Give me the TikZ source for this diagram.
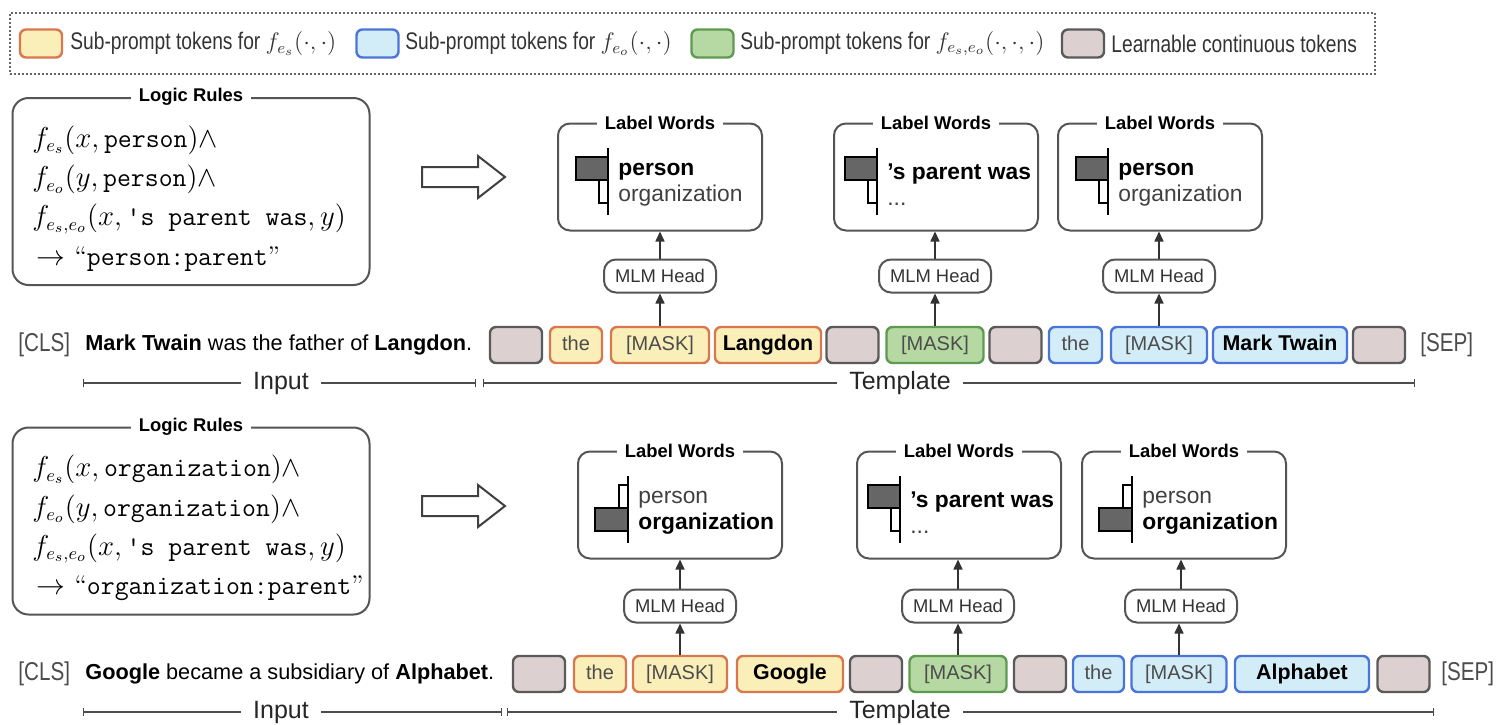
\documentclass[tikz,border=0pt]{standalone}
\usepackage{fontspec}
\setsansfont{Liberation Sans}
\newfontfamily\narrowsf[FakeStretch=0.8]{Liberation Sans}
\usetikzlibrary{arrows.meta}
\definecolor{subjfill}{HTML}{FAEFB8}
\definecolor{subjline}{HTML}{D9774E}
\definecolor{objfill}{HTML}{D3EDF8}
\definecolor{objline}{HTML}{4A74D8}
\definecolor{relfill}{HTML}{B6D9A3}
\definecolor{relline}{HTML}{5E9A4F}
\definecolor{learnfill}{HTML}{DDD0D1}
\definecolor{learnline}{HTML}{5A5A5A}
\definecolor{barfill}{HTML}{666666}
\definecolor{edge}{HTML}{555555}
\begin{document}
\begin{tikzpicture}[x=0.5pt,y=-0.5pt,
	tok/.style={draw, rounded corners=3pt, line width=1.2pt, minimum height=18pt, inner sep=0pt, text height=7.4pt, text depth=1.8pt, text=black!70, font=\sffamily\fontsize{10}{12}\selectfont},
	subj/.style={tok, draw=subjline, fill=subjfill},
	obj/.style={tok, draw=objline, fill=objfill},
	rel/.style={tok, draw=relline, fill=relfill},
	learn/.style={tok, draw=learnline, fill=learnfill, minimum width=26pt},
	ent/.style={text=black, font=\sffamily\bfseries\fontsize{10.7}{12}\selectfont},
	rulebox/.style={draw=edge, line width=1pt, rounded corners=8pt, minimum width=178.5pt, minimum height=93.5pt},
	labelbox/.style={draw=edge, line width=1pt, rounded corners=6pt, minimum width=102pt, minimum height=53.5pt},
	boxtitle/.style={fill=white, inner xsep=4pt, inner ysep=1pt, font=\sffamily\bfseries\fontsize{9.2}{10}\selectfont},
	lwtext/.style={anchor=west, align=left, inner sep=0pt, text=black!75, font=\sffamily\fontsize{11.4}{13}\selectfont},
	mlm/.style={draw=edge, line width=1pt, rounded corners=6pt, minimum width=56pt, minimum height=16.5pt, inner sep=0pt, text=black!80, font=\sffamily\fontsize{9.2}{10}\selectfont},
	flow/.style={line width=0.8pt, draw=black!80, -{Triangle[width=4.5pt,length=5pt]}},
	bar/.style={draw=black, line width=0.8pt},
	axis/.style={draw=black, line width=1.3pt},
	span/.style={line width=0.7pt, draw=black!70, {Bar[width=4pt]}-{Bar[width=4pt]}},
	spanlabel/.style={fill=white, inner xsep=6pt, inner ysep=1pt, text=black!85, font=\sffamily\fontsize{12.5}{14}\selectfont},
	fatarrow/.style={draw=black!75, line width=1pt, fill=white, line join=miter},
	ruletext/.style={anchor=west, align=left, inner sep=0pt, font=\rmfamily\fontsize{13.5}{19.6}\selectfont},
	sentence/.style={anchor=west, inner sep=0pt, font=\sffamily\fontsize{10.85}{12}\selectfont},
	special/.style={anchor=west, inner sep=0pt, text=black!70, font=\narrowsf\fontsize{12.9}{15}\selectfont},
	keytext/.style={anchor=west, inner sep=0pt, text=black!80, font=\narrowsf\fontsize{12}{13}\selectfont}]
	\useasboundingbox (0,0) rectangle (1506,724);

	% legend
	\node[draw=black!60, line width=0.8pt, dash pattern=on 0.8pt off 1.2pt, minimum width=682.5pt, minimum height=30.5pt] (legend) at (692.5,43.5) {};
	\foreach \st/\cx/\tx/\lab in {subj/41/70/{Sub-prompt tokens for $f_{e_s}(\cdot,\cdot)$},
		obj/377.5/405/{Sub-prompt tokens for $f_{e_o}(\cdot,\cdot)$},
		rel/712.5/740/{Sub-prompt tokens for $f_{e_s,e_o}(\cdot,\cdot,\cdot)$},
		learn/1083/1111/{Learnable continuous tokens}}
	{
		\node[\st, minimum width=21pt, minimum height=14pt] (key\st) at (\cx,43.5) {};
		\node[keytext] (keytext\st) at (\tx,43.5) {\lab};
	}

	% logic rules
	\node[rulebox] (rulesa) at (191,191.5) {};
	\node[boxtitle] (rulesatitle) at (rulesa.north) {Logic Rules};
	\node[ruletext] (rulesatext) at (32,198.5) {$f_{e_s}(x,\texttt{person})\wedge$\\
		$f_{e_o}(y,\texttt{person})\wedge$\\
		$f_{e_s,e_o}(x,\texttt{'s parent was},y)$\\
		\,$\rightarrow$ “\texttt{person:parent}”};
	\node[rulebox] (rulesb) at (191,521) {};
	\node[boxtitle] (rulesbtitle) at (rulesb.north) {Logic Rules};
	\node[ruletext] (rulesbtext) at (32,528) {$f_{e_s}(x,\texttt{organization})\wedge$\\
		$f_{e_o}(y,\texttt{organization})\wedge$\\
		$f_{e_s,e_o}(x,\texttt{'s parent was},y)$\\
		\,$\rightarrow$ “\texttt{organization:parent}”};

	% hollow arrows
	\draw[fatarrow] (422,167) -- (478,167) -- (478,156) -- (505,177) -- (478,198) -- (478,187) -- (422,187) -- cycle;
	\draw[fatarrow] (422,496) -- (478,496) -- (478,485) -- (505,506) -- (478,527) -- (478,516) -- (422,516) -- cycle;

	% label words
	\foreach \nm/\cx/\cy/\ax/\la/\lb/\wa/\fa/\wb/\fb in {
		lwa/660/177/-52/{{\bfseries\color{black}person}}/{organization}/32/barfill/9/white,
		lwb/936/177/-59/{{\bfseries\color{black}'s parent was}}/{...}/32/barfill/9/white,
		lwc/1160/177/-52/{{\bfseries\color{black}person}}/{organization}/32/barfill/9/white,
		lwd/680/505/-52/{person}/{{\bfseries\color{black}organization}}/9/white/33/barfill,
		lwe/959/505/-59/{{\bfseries\color{black}'s parent was}}/{...}/32/barfill/9/white,
		lwf/1184/505/-52/{person}/{{\bfseries\color{black}organization}}/9/white/33/barfill}
	{
		\node[labelbox] (\nm) at (\cx,\cy) {};
		\node[boxtitle] (\nm title) at (\nm.north) {Label Words};
		\draw[bar, fill=\fa] ([shift={(\ax-\wa,-20)}]\nm.center) rectangle ([shift={(\ax,3)}]\nm.center);
		\draw[bar, fill=\fb] ([shift={(\ax-\wb,3)}]\nm.center) rectangle ([shift={(\ax,26)}]\nm.center);
		\draw[axis] ([shift={(\ax,-29)}]\nm.center) -- ([shift={(\ax,38)}]\nm.center);
		\node[lwtext] (\nm text) at ([shift={(\ax+10,8)}]\nm.center) {\la\\\lb};
	}

	% MLM heads
	\node[mlm] (mlma) at (660,276) {MLM Head};
	\node[mlm] (mlmb) at (935,276) {MLM Head};
	\node[mlm] (mlmc) at (1159,276) {MLM Head};
	\node[mlm] (mlmd) at (680,606) {MLM Head};
	\node[mlm] (mlme) at (958,606) {MLM Head};
	\node[mlm] (mlmf) at (1181,606) {MLM Head};

	% first sentence
	\node[special] (clsa) at (18,345) {[CLS]};
	\node[sentence] (senta) at (85,345) {\textbf{Mark Twain} was the father of \textbf{Langdon}.};
	\node[learn] (gla) at (516,345) {};
	\node[subj, minimum width=26pt] (thea) at (576,345) {the};
	\node[subj, minimum width=49pt] (maska) at (660,345) {[MASK]};
	\node[subj, ent, minimum width=53pt] (suba) at (768,345) {Langdon};
	\node[learn] (glb) at (852.5,345) {};
	\node[rel, minimum width=48.5pt] (maskb) at (935,345) {[MASK]};
	\node[learn] (glc) at (1015.5,345) {};
	\node[obj, minimum width=26.5pt] (theb) at (1075.5,345) {the};
	\node[obj, minimum width=48pt] (maskc) at (1159,345) {[MASK]};
	\node[obj, ent, minimum width=67pt] (obja) at (1280,345) {Mark Twain};
	\node[learn] (gld) at (1379,345) {};
	\node[special] (sepa) at (1420,345) {[SEP]};

	% second sentence
	\node[special] (clsb) at (18,674) {[CLS]};
	\node[sentence] (sentb) at (85,674) {\textbf{Google} became a subsidiary of \textbf{Alphabet}.};
	\node[learn] (gle) at (539,674) {};
	\node[subj, minimum width=26pt] (thec) at (600,674) {the};
	\node[subj, minimum width=47pt] (maskd) at (680,674) {[MASK]};
	\node[subj, ent, minimum width=53pt] (subb) at (790,674) {Google};
	\node[learn] (glf) at (876,674) {};
	\node[rel, minimum width=48.5pt] (maske) at (958,674) {[MASK]};
	\node[learn] (glg) at (1040,674) {};
	\node[obj, minimum width=25.5pt] (thed) at (1098.5,674) {the};
	\node[obj, minimum width=47.5pt] (maskf) at (1179,674) {[MASK]};
	\node[obj, ent, minimum width=67pt] (objb) at (1302,674) {Alphabet};
	\node[learn] (glh) at (1403.5,674) {};
	\node[special] (sepb) at (1441,674) {[SEP]};

	% connectors
	\foreach \a/\b/\c in {maska/mlma/lwa, maskb/mlmb/lwb, maskc/mlmc/lwc, maskd/mlmd/lwd, maske/mlme/lwe, maskf/mlmf/lwf}
	{
		\draw[flow] (\a.north) -- (\a.north |- \b.south);
		\draw[flow] (\b.north) -- (\b.north |- \c.south);
	}

	% input / template spans
	\coordinate (ina1) at (83,383);
	\coordinate (ina2) at (476,383);
	\coordinate (tpa1) at (483,383);
	\coordinate (tpa2) at (1415,383);
	\draw[span] (ina1) -- (ina2);
	\draw[span] (tpa1) -- (tpa2);
	\node[spanlabel] (inputa) at (281,383) {Input};
	\node[spanlabel] (templatea) at (900,383) {Template};
	\coordinate (inb1) at (83,712);
	\coordinate (inb2) at (502,712);
	\coordinate (tpb1) at (507,712);
	\coordinate (tpb2) at (1434,712);
	\draw[span] (inb1) -- (inb2);
	\draw[span] (tpb1) -- (tpb2);
	\node[spanlabel] (inputb) at (281,712) {Input};
	\node[spanlabel] (templateb) at (900,712) {Template};
\end{tikzpicture}
\end{document}
